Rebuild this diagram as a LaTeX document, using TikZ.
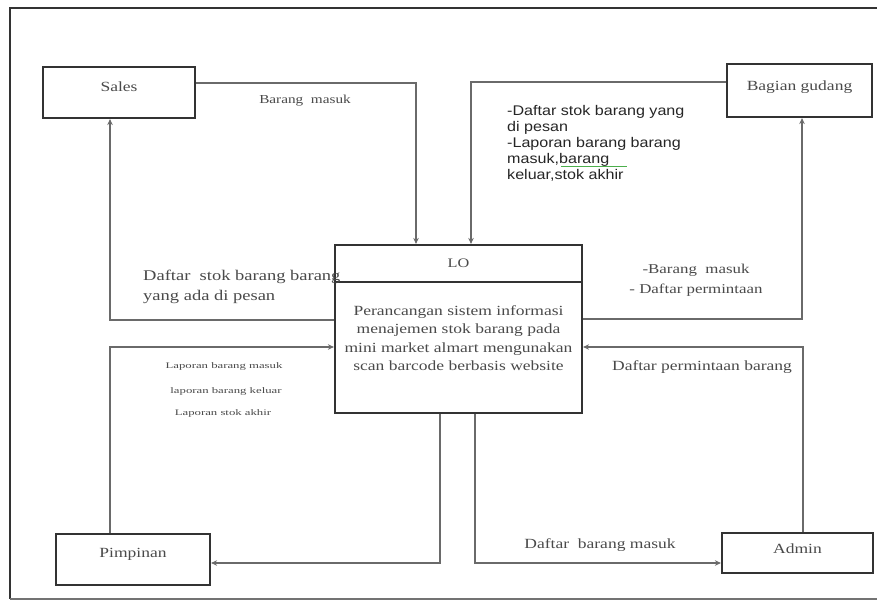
\documentclass[tikz,border=0pt]{standalone}
\usepackage{fontspec}
\setmainfont{Liberation Serif}
\newfontfamily\wsf[FakeStretch=1.25]{Liberation Serif}
\newfontfamily\wsfsmall[FakeStretch=1.5]{Liberation Serif}
\newfontfamily\wss[FakeStretch=1.15]{Liberation Sans}
\usetikzlibrary{arrows.meta}
\definecolor{boxc}{HTML}{333333}
\definecolor{connc}{HTML}{6A6A6A}
\definecolor{txtc}{HTML}{4A4A4A}
\tikzset{
  box/.style={draw=boxc, line width=2.2pt, inner sep=0pt, text=txtc,
    font=\wsf\fontsize{14}{16}\selectfont},
  conn/.style={draw=connc, line width=1.3pt},
  arr/.style={conn, -{Stealth[length=6pt,width=5.5pt]}},
  lbl/.style={text=txtc, inner sep=0pt, font=\wsf\fontsize{13.5}{20}\selectfont},
  small/.style={text=txtc, inner sep=0pt, font=\wsfsmall\fontsize{8.5}{10}\selectfont},
}
\begin{document}
\begin{tikzpicture}[x=1pt,y=-1pt]
\useasboundingbox (0,0) rectangle (877,601);
\fill[white] (0,0) rectangle (877,601);
% outer frame
\draw[boxc, line width=2.2pt] (877,8) -- (10,8) -- (10,599);
\draw[black!55, line width=1.5pt] (10,599) -- (877,599);

% boxes
\node[box, minimum width=152pt, minimum height=51pt, text depth=11pt] (sales) at (119,92.5) {Sales};
\node[box, minimum width=145pt, minimum height=53pt, text depth=9pt] (gud) at (799.5,90.5) {Bagian gudang};
\node[box, minimum width=154pt, minimum height=51pt, text depth=13pt] (pim) at (133,559.5) {Pimpinan};
\node[box, minimum width=151pt, minimum height=40pt, text depth=9pt] (adm) at (797.5,553) {Admin};
\node[box, minimum width=247pt, minimum height=168pt] (lo) at (458.5,329) {};
\draw[boxc, line width=2.2pt] (lo.west |- 0,282) -- (lo.east |- 0,282);
\node[text=txtc, font=\wsf\fontsize{13}{15}\selectfont] (lot) at (458.5,263) {LO};
\node[text=txtc, align=center, inner sep=0pt,
  font=\wsf\fontsize{14}{18.3}\selectfont] (lob) at (458.5,338)
  {Perancangan sistem informasi\\menajemen stok barang pada\\mini market almart mengunakan\\scan barcode berbasis website};

% connectors
\draw[arr] (sales.east |- 0,83) -| (lo.north -| 416,0);
\draw[arr] (gud.west |- 0,82) -| (lo.north -| 471,0);
\draw[arr] (lo.west |- 0,320) -| (sales.south -| 110,0);
\draw[arr] (lo.east |- 0,319) -| (gud.south -| 802,0);
\draw[arr] (pim.north -| 110,0) |- (lo.west |- 0,347);
\draw[arr] (adm.north -| 803,0) |- (lo.east |- 0,347);
\draw[arr] (lo.south -| 440,0) |- (pim.east |- 0,563);
\draw[arr] (lo.south -| 475,0) |- (adm.west |- 0,563);

% labels
\node[lbl, font=\wsf\fontsize{12.2}{20}\selectfont] (l1) at (305,101) {Barang\ \ masuk};
\node[text=black!85, inner sep=0pt, align=left, anchor=north west,
  font=\wss\fontsize{14}{16}\selectfont] (l2) at (507,105)
  {-Daftar stok barang yang\\di pesan\\-Laporan barang barang\\masuk,barang\\keluar,stok akhir};
\draw[green!55!black!70, line width=0.8pt] (561,166) -- (627,166);
\node[lbl, align=left, anchor=west, font=\wsf\fontsize{14.8}{20}\selectfont] (l3) at (143,287)
  {Daftar\ \ stok barang barang\\yang ada di pesan};
\node[lbl, align=center] (l4) at (696,280)
  {-Barang\ \ masuk\\- Daftar permintaan};
\node[small] (l5) at (224,366) {Laporan barang masuk};
\node[small] (l6) at (226,391) {laporan barang keluar};
\node[small] (l7) at (223,413) {Laporan stok akhir};
\node[lbl, font=\wsf\fontsize{14}{20}\selectfont] (l8) at (702,367) {Daftar permintaan barang};
\node[lbl, font=\wsf\fontsize{14}{20}\selectfont] (l9) at (600,545) {Daftar\ \ barang masuk};
\end{tikzpicture}
\end{document}
